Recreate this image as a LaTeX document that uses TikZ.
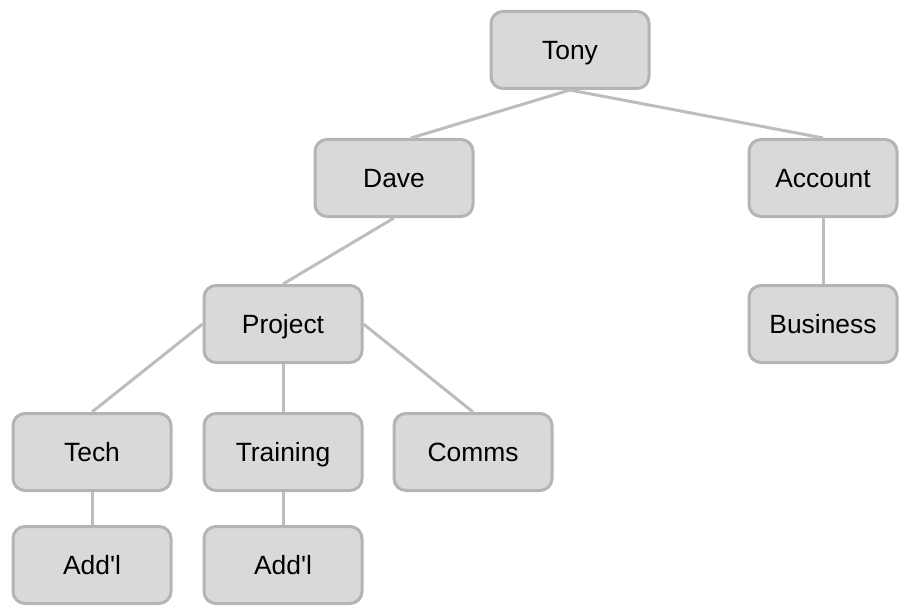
\documentclass[tikz,border=0pt]{standalone}
\usepackage{fontspec}
\setmainfont{Liberation Sans}
\definecolor{boxfill}{HTML}{D9D9D9}
\definecolor{boxline}{HTML}{B4B4B4}
\definecolor{linkline}{HTML}{BDBDBD}
\begin{document}
\begin{tikzpicture}[x=0.75pt,y=-0.75pt, every node/.style={draw=boxline,fill=boxfill,line width=2.25pt,rounded
corners=9pt,align=center,font=\fontsize{19.8}{22}\selectfont,minimum width=118.5pt,minimum height=57.75pt,inner sep=0pt,text height=18pt,text depth=4pt}]
\useasboundingbox (0,0) rectangle (899,606);
\node (tony)     at (570,50)  {Tony};
\node (dave)     at (394,178) {Dave};
\node (acct)     at (823,178) [minimum width=111pt] {Account};
\node (proj)     at (283,324) {Project};
\node (bus)      at (823,324) [minimum width=111pt] {Business};
\node (tech)     at (92,452)  {Tech};
\node (train)    at (283,452) {Training};
\node (comms)    at (473,452) {Comms};
\node (addtech)  at (92,565)  {Add\textquotesingle l};
\node (addtrain) at (283,565) {Add\textquotesingle l};

\begin{scope}[linkline,line width=2.25pt]
\draw (tony.south) -- ([xshift=12.75pt]dave.north);
\draw (tony.south) -- (acct.north);
\draw (dave.south) -- (proj.north);
\draw (acct.south) -- (bus.north);
\draw (proj.west) -- (tech.north);
\draw (proj.south) -- (train.north);
\draw (proj.east) -- (comms.north);
\draw (tech.south) -- (addtech.north);
\draw (train.south) -- (addtrain.north);
\end{scope}
\end{tikzpicture}
\end{document}
